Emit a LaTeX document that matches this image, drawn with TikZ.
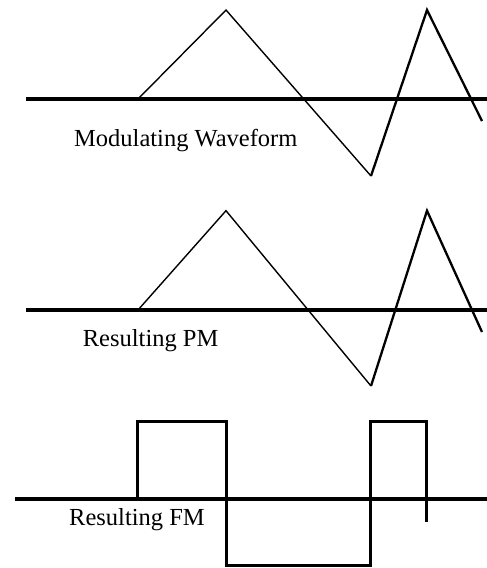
\documentclass[tikz,border=0pt]{standalone}
\usepackage{fontspec}
\setmainfont{Liberation Serif}
\begin{document}
\begin{tikzpicture}[x=1pt,y=-1pt,
  axis/.style={line width=3.2pt},
  thinwave/.style={line width=1.4pt,line join=miter},
  medwave/.style={line width=2.3pt,line join=miter},
  sqwave/.style={line width=3.2pt,line join=miter},
  lbl/.style={anchor=base west,inner sep=0pt,font=\fontsize{24.5}{29}\selectfont}]
\useasboundingbox (0,0) rectangle (487,568);
% Panel 1: modulating waveform
\draw[axis] (26,99) -- (487,99);
\draw[thinwave] (138,99) -- (226,10) -- (371,176);
\draw[medwave] (371,176) -- (427,10) -- (482,121);
\node[lbl] (l1) at (74,146.7) {Modulating Waveform};
% Panel 2: resulting PM
\draw[axis] (26,310) -- (487,310);
\draw[thinwave] (138,310) -- (226,210.7) -- (371,386);
\draw[medwave] (371,386) -- (427,210.7) -- (482,332);
\node[lbl] (l2) at (82.7,346.7) {Resulting PM};
% Panel 3: resulting FM
\draw[axis] (15,499) -- (487,499);
\draw[sqwave] (137.7,499) -- (137.7,421.7) -- (226.7,421.7) -- (226.7,565.7)
  -- (370.7,565.7) -- (370.7,421.7) -- (426.7,421.7) -- (426.7,521.7);
\node[lbl] (l3) at (69,525.7) {Resulting FM};
\end{tikzpicture}
\end{document}
